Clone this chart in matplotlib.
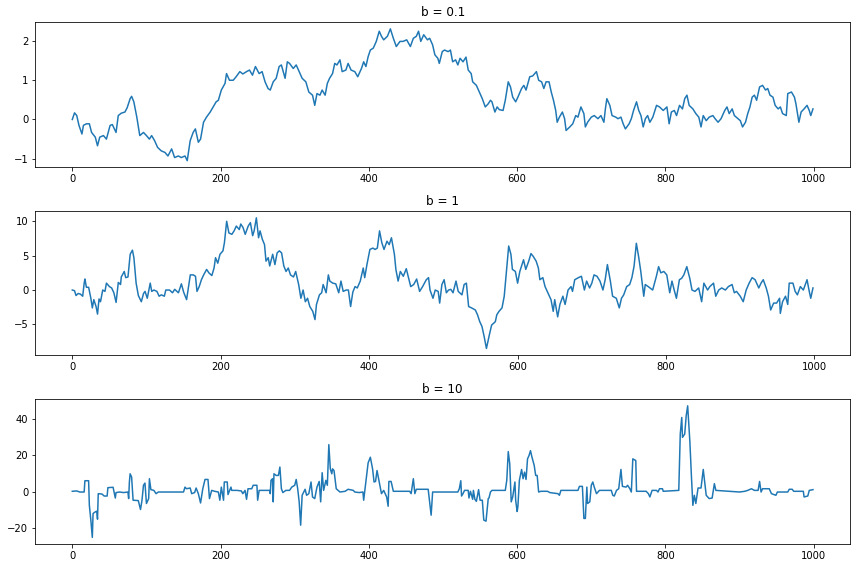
"""Three noisy paths for different b values, stacked vertically."""
import matplotlib
matplotlib.use("Agg")
import matplotlib.pyplot as plt

# values (step index, value)
x_b01 = [0, 3, 6, 9, 13, 15, 19, 23, 26, 31, 34, 37, 42, 46, 51, 54, 59, 62, 66, 71,
         74, 78, 80, 83, 87, 91, 96, 100, 104, 107, 111, 115, 120, 125, 129, 134, 138, 143, 147, 152,
         155, 159, 163, 166, 170, 173, 177, 181, 186, 190, 194, 197, 201, 206, 208, 212, 217, 221, 226, 230,
         235, 239, 243, 247, 252, 256, 260, 264, 267, 271, 275, 279, 282, 287, 290, 293, 298, 302, 306, 310,
         315, 319, 324, 327, 330, 334, 337, 341, 344, 347, 351, 354, 357, 361, 364, 369, 372, 376, 381, 385,
         390, 393, 396, 399, 402, 406, 410, 414, 417, 420, 425, 429, 433, 437, 442, 446, 451, 456, 460, 464,
         467, 470, 474, 479, 482, 486, 489, 493, 495, 499, 502, 507, 510, 513, 517, 520, 523, 527, 531, 534,
         538, 540, 545, 549, 553, 557, 561, 564, 566, 570, 573, 576, 581, 584, 588, 591, 594, 598, 601, 606,
         609, 612, 617, 621, 626, 629, 633, 636, 639, 643, 646, 649, 652, 654, 657, 661, 664, 666, 671, 675,
         679, 682, 686, 690, 692, 695, 700, 704, 709, 713, 717, 719, 721, 725, 728, 733, 736, 740, 743, 746,
         751, 754, 757, 761, 764, 767, 770, 773, 776, 779, 783, 788, 792, 797, 802, 805, 808, 812, 815, 819,
         823, 826, 829, 832, 837, 841, 845, 848, 851, 855, 859, 864, 867, 871, 875, 880, 883, 886, 890, 893,
         898, 901, 904, 908, 911, 914, 917, 920, 923, 927, 931, 935, 938, 941, 945, 948, 952, 955, 958, 963,
         965, 970, 974, 976, 980, 983, 987, 991, 994, 996, 999]
y_b01 = [0.0, 0.17, 0.10, -0.15, -0.37, -0.15, -0.11, -0.11, -0.33, -0.45, -0.67, -0.45, -0.41, -0.50, -0.15, -0.13, -0.33, 0.10, 0.16, 0.19,
         0.30, 0.53, 0.59, 0.45, 0.06, -0.41, -0.33, -0.41, -0.50, -0.41, -0.54, -0.71, -0.80, -0.84, -0.93, -0.75, -0.97, -0.93, -0.97, -0.93,
         -1.05, -0.54, -0.33, -0.24, -0.58, -0.50, -0.07, 0.06, 0.19, 0.32, 0.45, 0.49, 0.75, 0.92, 1.17, 1.00, 1.00, 1.09, 1.22, 1.16,
         1.22, 1.26, 1.13, 1.35, 1.17, 1.22, 0.96, 0.79, 0.75, 0.96, 1.05, 1.35, 1.39, 1.05, 1.47, 1.43, 1.30, 1.39, 1.22, 1.05,
         0.96, 0.70, 0.62, 0.36, 0.66, 0.62, 0.75, 0.62, 0.92, 1.05, 1.17, 1.43, 1.39, 1.52, 1.22, 1.26, 1.43, 1.26, 1.22, 1.09,
         1.30, 1.47, 1.35, 1.60, 1.77, 1.82, 1.99, 2.25, 2.12, 2.03, 2.12, 2.31, 2.07, 1.86, 1.99, 1.99, 2.03, 1.86, 2.07, 2.12,
         2.25, 1.99, 2.16, 2.03, 2.07, 1.90, 1.65, 1.56, 1.43, 1.73, 1.77, 1.73, 1.77, 1.47, 1.52, 1.39, 1.56, 1.47, 1.59, 1.26,
         1.17, 0.96, 0.87, 0.70, 0.53, 0.32, 0.40, 0.49, 0.45, 0.19, 0.32, 0.25, 0.23, 0.49, 0.96, 0.83, 0.57, 0.45, 0.57, 0.79,
         0.87, 0.75, 1.09, 1.11, 1.22, 1.00, 0.96, 0.79, 0.96, 0.96, 0.70, 0.49, 0.23, -0.07, 0.06, 0.19, 0.02, -0.28, -0.19, -0.11,
         0.10, 0.06, 0.32, 0.15, -0.19, -0.07, 0.06, 0.10, 0.02, 0.10, -0.07, 0.27, 0.53, 0.36, 0.10, 0.06, 0.02, 0.06, -0.11, -0.24,
         -0.11, 0.02, 0.23, 0.45, 0.23, 0.10, -0.19, 0.02, 0.10, -0.07, 0.06, 0.36, 0.32, 0.23, 0.32, -0.11, 0.19, 0.23, 0.10, 0.36,
         0.27, 0.53, 0.62, 0.36, 0.27, 0.15, 0.06, -0.19, 0.10, -0.03, 0.06, 0.10, 0.02, -0.07, 0.02, 0.23, 0.32, 0.15, 0.27, 0.10,
         0.02, -0.03, -0.19, -0.07, 0.15, 0.32, 0.57, 0.62, 0.49, 0.83, 0.87, 0.75, 0.79, 0.62, 0.57, 0.36, 0.27, 0.32, 0.15, 0.10,
         0.66, 0.70, 0.57, 0.40, -0.07, 0.19, 0.27, 0.36, 0.23, 0.10, 0.27]

x_b1 = [0, 3, 5, 8, 11, 14, 16, 17, 19, 22, 25, 27, 29, 32, 34, 36, 38, 41, 44, 46,
        50, 53, 56, 59, 62, 65, 66, 70, 72, 75, 78, 81, 83, 86, 89, 93, 96, 98, 101, 105,
        107, 110, 114, 117, 120, 124, 126, 131, 135, 138, 143, 147, 150, 154, 156, 159, 163, 166, 168, 171,
        174, 177, 181, 184, 188, 191, 193, 196, 199, 203, 205, 208, 211, 215, 218, 221, 225, 227, 230, 233,
        237, 240, 243, 245, 248, 251, 253, 256, 259, 261, 264, 266, 270, 273, 276, 279, 282, 285, 288, 291,
        294, 298, 301, 305, 308, 311, 314, 317, 320, 324, 327, 329, 333, 336, 338, 342, 345, 347, 351, 355,
        359, 362, 365, 369, 372, 375, 378, 381, 384, 388, 392, 394, 397, 401, 405, 408, 411, 414, 417, 420,
        424, 427, 430, 434, 436, 439, 442, 446, 450, 453, 456, 460, 464, 468, 472, 477, 480, 482, 486, 489,
        493, 495, 498, 501, 504, 507, 510, 513, 517, 520, 525, 528, 531, 534, 538, 543, 546, 549, 552, 555,
        558, 562, 565, 570, 572, 575, 579, 582, 584, 588, 591, 593, 597, 600, 603, 608, 611, 615, 618, 621,
        625, 628, 630, 634, 637, 640, 645, 648, 650, 654, 657, 661, 664, 668, 672, 674, 677, 682, 686, 690,
        693, 697, 700, 703, 707, 711, 715, 718, 721, 725, 728, 733, 737, 740, 743, 747, 751, 754, 757, 760,
        763, 766, 770, 772, 776, 782, 787, 790, 793, 797, 801, 805, 808, 811, 814, 818, 821, 824, 828, 832,
        835, 839, 844, 848, 851, 856, 859, 864, 867, 871, 875, 880, 884, 889, 892, 895, 900, 904, 908, 912,
        916, 920, 925, 928, 931, 935, 938, 941, 945, 949, 953, 954, 957, 961, 964, 966, 971, 974, 977, 981,
        985, 990, 993, 995, 998]
y_b1 = [0.0, -0.1, -0.8, -0.5, -0.6, -0.9, 1.0, 1.6, 0.4, 0.4, -1.2, -2.6, -1.4, -2.4, -3.5, -1.3, -1.7, 0.0, -0.2, 1.0,
        0.5, 0.3, -0.4, -1.8, 1.1, 0.8, 1.9, 2.7, 1.8, 1.9, 5.2, 5.8, 4.7, 1.0, -0.8, -1.7, -0.5, -0.2, -1.2, 1.0,
        -0.2, 0.0, -0.2, -0.9, -0.7, -0.9, 0.0, 0.0, -0.4, 0.1, -0.4, 0.9, -0.3, -1.4, 0.0, 2.2, 2.2, 2.0, -0.2, 0.5,
        1.5, 2.2, 3.0, 2.5, 2.1, 3.2, 4.7, 3.9, 5.2, 5.7, 6.9, 10.0, 8.3, 8.1, 8.6, 9.3, 8.8, 9.6, 9.1, 8.1,
        9.3, 9.8, 7.9, 8.6, 10.5, 7.6, 8.6, 7.4, 6.6, 4.2, 4.7, 3.5, 5.2, 3.7, 5.4, 5.7, 5.4, 3.5, 2.7, 3.2,
        2.2, 1.9, 2.7, 0.8, -1.2, 0.0, -1.7, -1.2, -2.4, -3.1, -4.3, -2.1, -0.7, -0.4, 0.8, -0.4, 2.2, 1.3, 1.0, 0.9,
        -0.4, 1.3, -0.2, 0.0, 0.0, -2.4, -0.3, 0.5, 0.3, 1.3, 3.2, 1.8, 3.7, 5.9, 6.1, 5.9, 6.1, 8.6, 6.9, 5.9,
        7.1, 6.6, 7.6, 5.2, 3.0, 1.3, 2.7, 2.0, 3.1, 1.8, 0.5, 0.8, 1.6, -0.2, 0.5, 1.5, 1.8, 0.0, -1.2, 0.0,
        -0.2, -1.9, 0.8, 1.5, -0.4, 0.0, 0.1, -0.4, 1.3, -0.2, -0.7, 0.8, 1.0, -2.4, -2.6, -2.9, -3.6, -4.6, -5.3, -6.8,
        -8.5, -6.5, -5.1, -4.6, -3.6, -3.1, -2.6, -0.9, 1.5, 6.4, 5.2, 3.0, 2.7, 1.0, 2.7, 4.4, 3.0, 4.2, 5.3, 4.9,
        4.2, 3.2, 1.5, 1.8, 0.5, -0.2, -1.4, -3.1, -1.4, -3.9, -2.1, -0.9, -2.1, 0.0, 0.5, -0.2, 1.5, 1.8, 2.0, 0.0,
        1.3, 0.3, 1.0, 2.2, 2.0, 1.3, 0.0, 1.5, 3.7, 1.3, -0.9, -1.2, -2.6, -1.2, -0.7, 0.5, 0.8, 1.8, 3.5, 6.8,
        4.9, 2.7, -0.9, 0.8, 0.5, 0.0, 2.0, 3.4, 2.5, 2.7, 2.2, -0.4, 1.3, 0.0, -1.2, 1.5, 1.7, 2.2, 3.4, 1.7,
        0.0, -0.2, 0.3, -1.7, 1.0, 0.0, 0.5, 1.0, -0.9, 0.0, 0.3, 0.0, 0.5, 0.8, -0.4, -0.2, -0.9, -1.7, 0.0, 1.0,
        1.8, 1.5, 0.3, 1.0, 1.5, 0.3, -0.9, -2.9, -1.9, -1.9, -1.2, -3.4, -1.7, -0.9, -2.1, 1.0, 1.0, -0.2, -0.7, 0.5,
        0.0, 1.5, -0.2, -1.2, 0.3]

x_b10 = [0, 6, 10, 16, 17, 22, 23, 25, 27, 28, 31, 33, 34, 35, 40, 43, 47, 48, 55, 58,
         59, 64, 69, 75, 76, 77, 78, 80, 82, 89, 92, 94, 96, 98, 100, 103, 104, 106, 110, 113,
         116, 150, 152, 154, 159, 161, 165, 167, 170, 173, 176, 179, 183, 185, 188, 192, 197, 199, 201, 204,
         205, 209, 210, 214, 215, 222, 228, 230, 233, 235, 237, 242, 244, 249, 250, 252, 257, 266, 267, 268,
         270, 271, 272, 275, 278, 280, 282, 284, 288, 293, 296, 300, 302, 304, 306, 308, 310, 314, 316, 319,
         322, 324, 327, 330, 333, 335, 337, 339, 342, 344, 346, 348, 350, 351, 353, 356, 361, 368, 372, 379,
         381, 387, 392, 393, 396, 399, 402, 405, 407, 409, 411, 414, 417, 420, 424, 426, 427, 430, 433, 455,
         457, 460, 462, 464, 480, 482, 484, 486, 520, 522, 524, 525, 527, 529, 534, 535, 537, 540, 541, 543,
         545, 548, 550, 553, 555, 558, 561, 562, 564, 566, 584, 586, 588, 590, 592, 594, 597, 598, 600, 601,
         603, 606, 608, 610, 612, 614, 616, 618, 620, 623, 625, 627, 629, 632, 641, 644, 655, 657, 659, 682,
         684, 688, 690, 692, 694, 695, 698, 700, 702, 704, 707, 711, 727, 729, 731, 734, 737, 740, 742, 747,
         749, 752, 754, 756, 760, 761, 774, 777, 779, 782, 788, 790, 792, 796, 797, 818, 820, 822, 823, 826,
         828, 830, 832, 833, 835, 837, 839, 841, 844, 848, 851, 853, 855, 859, 863, 866, 868, 900, 907, 911,
         916, 920, 925, 927, 929, 931, 940, 943, 949, 951, 965, 967, 971, 973, 986, 987, 992, 994, 999]
y_b10 = [0.2, 0.4, -0.2, -0.2, 6.0, 6.0, -7.5, -15.6, -25.1, -12.0, -11.1, -10.7, -15.1, -1.1, -1.3, -2.4, -2.4, 2.2, 2.4, -3.5,
         -0.5, -0.2, -0.5, -0.2, -3.8, 5.3, 9.8, 8.0, -4.7, -4.9, -9.8, -4.7, 3.5, 4.7, -6.5, -3.8, 7.1, 1.1, 0.7, -1.1,
         -0.2, -0.2, 2.5, 1.6, 2.0, -1.1, -0.5, 2.0, -1.1, -6.2, 1.6, 6.7, 6.7, -3.8, 0.7, 0.2, -0.2, -4.7, 2.5, -4.7,
         5.3, 5.3, -1.6, 2.5, 0.7, 0.7, 0.4, -1.1, 0.7, -4.2, 1.6, 1.6, 3.5, 3.5, -4.7, 0.7, 0.7, 0.7, -1.1, 6.2,
         7.1, -5.6, 9.8, 8.9, 8.9, 13.5, 1.6, -0.5, 0.7, 0.7, 2.5, 3.5, 6.7, 1.6, -5.6, -18.4, -2.0, 1.3, -2.0, -1.1,
         5.3, -2.9, -3.8, 2.5, 5.6, -5.6, 10.4, 0.7, 6.2, 3.5, 25.8, 12.5, 9.8, 12.5, 11.6, 1.6, -0.2, 0.2, 1.3, 0.7,
         -0.2, -0.5, -0.2, -4.7, 5.3, 15.8, 18.9, 12.5, 5.3, 5.6, 11.6, 5.3, -1.1, 0.7, -2.9, -8.0, 5.6, 5.6, 0.2, 0.2,
         -1.1, 7.1, -1.1, 1.3, 1.3, -5.6, -12.9, -0.2, -0.2, 1.6, 6.0, -2.4, -1.1, 0.7, 0.7, -3.5, 0.2, -4.2, 0.7, -4.2,
         -5.3, 1.1, -4.7, -4.7, -15.6, -16.2, -3.8, -3.5, -0.2, 0.7, 0.7, 6.2, 22.0, 15.3, -5.6, -2.9, 5.3, -4.7, -10.9, -8.2,
         6.2, 12.2, 7.1, 10.7, 6.7, 18.0, 19.8, 22.5, 18.9, 14.4, 8.9, 8.9, -0.2, 0.2, 0.2, -0.5, -1.1, -2.0, 0.7, 0.7,
         2.9, 2.9, -14.7, -14.7, 2.5, -6.5, -5.6, 3.5, 5.3, 2.5, -1.1, 0.7, 0.7, -2.0, -2.4, 0.7, 1.6, 12.2, 2.9, 2.5,
         3.5, 1.6, -0.2, 18.0, 17.1, 0.2, 0.2, -1.1, -2.9, 0.7, 0.7, -0.2, 1.6, 1.6, 0.2, 0.7, 31.6, 40.7, 29.8, 31.6,
         41.6, 47.1, 33.5, 27.1, 8.9, -7.5, -2.0, -6.5, 2.0, 2.0, 12.2, 5.3, -2.0, -3.8, -3.5, 4.4, 0.7, -0.2, 0.2, 0.7,
         1.6, 0.7, 0.7, 5.6, -0.2, 1.6, 1.6, -1.1, -2.0, -0.2, -0.2, 1.3, 1.3, 0.2, 0.2, -2.9, -2.4, 0.7, 1.1]

titles = ["b = 0.1", "b = 1", "b = 10"]


def main():
    fig = plt.figure(figsize=(856 / 72, 568 / 72), dpi=72)
    boxes = [
        [0.0412, 0.7055, 0.9518, 0.2553],
        [0.0412, 0.3750, 0.9518, 0.2530],
        [0.0412, 0.0423, 0.9518, 0.2548],
    ]
    series = [(x_b01, y_b01), (x_b1, y_b1), (x_b10, y_b10)]
    for box, (xs, ys), title in zip(boxes, series, titles):
        ax = fig.add_axes(box)
        ax.plot(xs, ys, color="#1f77b4", linewidth=1.5)
        ax.set_title(title)
        ax.set_xticks([0, 200, 400, 600, 800, 1000])
    fig.savefig("out.png", dpi=72)


if __name__ == "__main__":
    main()
